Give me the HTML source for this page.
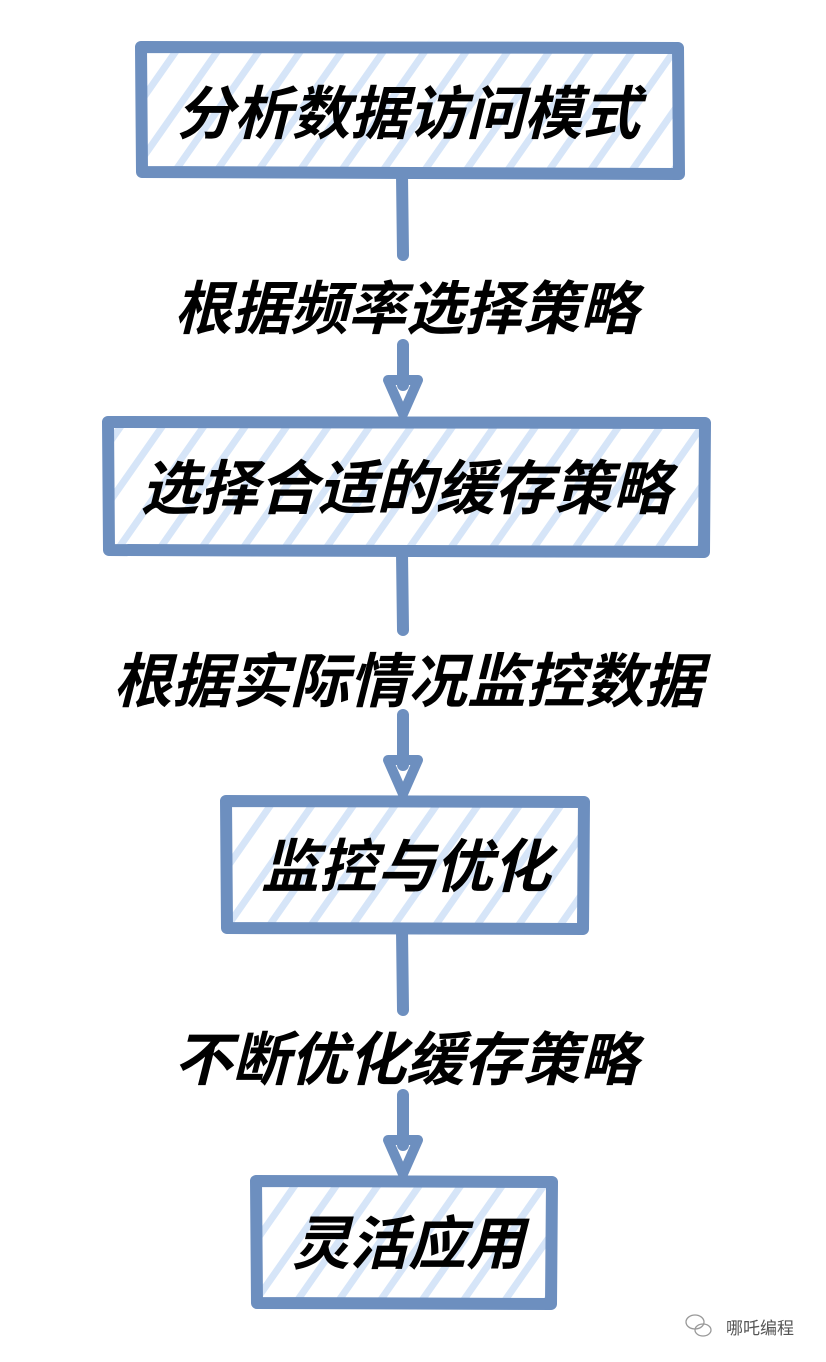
<!DOCTYPE html>
<html><head><meta charset="utf-8"><style>
html,body{margin:0;padding:0;background:#fff;}
svg{display:block}
text{font-family:"Liberation Sans","Noto Sans CJK SC",sans-serif;font-weight:bold;font-style:italic;fill:#000;text-anchor:middle;}
</style></head><body>
<svg width="826" height="1362" viewBox="0 0 826 1362" xmlns="http://www.w3.org/2000/svg">
<defs>
<pattern id="h" width="34" height="34" patternUnits="userSpaceOnUse" patternTransform="rotate(35)">
<rect width="34" height="34" fill="#fff"/>
<rect x="0" y="0" width="7" height="34" fill="#d6e5f8"/>
</pattern>
</defs>
<g stroke="#6d8fbf" stroke-width="12" stroke-linecap="round" stroke-linejoin="round" fill="none">
<line x1="402" y1="175" x2="403" y2="255"/>
<line x1="403" y1="345" x2="403" y2="385"/>
<line x1="402" y1="553" x2="403" y2="630"/>
<line x1="403" y1="715" x2="403" y2="765"/>
<line x1="402" y1="930" x2="403" y2="1010"/>
<line x1="403" y1="1095" x2="403" y2="1145"/>
<path d="M388 380 L403 414 L418 380 Z" stroke-width="10"/>
<path d="M388 760 L403 794 L418 760 Z" stroke-width="10"/>
<path d="M388 1140 L403 1174 L418 1140 Z" stroke-width="10"/>
</g>
<g stroke="#6d8fbf" stroke-width="12" stroke-linejoin="round" fill="url(#h)">
<path d="M141 47 L678 48 L679 174 L142 172 Z"/>
<path d="M108 422 L705 423 L704 552 L109 550 Z"/>
<path d="M226 801 L584 802 L583 929 L227 928 Z"/>
<path d="M256 1181 L552 1182 L551 1304 L257 1303 Z"/>
</g>
<text x="408" y="134" font-size="58">分析数据访问模式</text>
<text x="406" y="329" font-size="58">根据频率选择策略</text>
<text x="406" y="509" font-size="59">选择合适的缓存策略</text>
<text x="408" y="702" font-size="59">根据实际情况监控数据</text>
<text x="406" y="887" font-size="58">监控与优化</text>
<text x="406" y="1080" font-size="58">不断优化缓存策略</text>
<text x="408" y="1264" font-size="58">灵活应用</text>
<g fill="none" stroke="#999" stroke-width="1.3">
<ellipse cx="695" cy="1322" rx="9" ry="7"/>
<ellipse cx="703" cy="1330" rx="8" ry="6"/>
</g>
<text x="760" y="1334" font-size="17" style="font-style:normal;font-weight:normal;fill:#555">哪吒编程</text>
</svg>
</body></html>
